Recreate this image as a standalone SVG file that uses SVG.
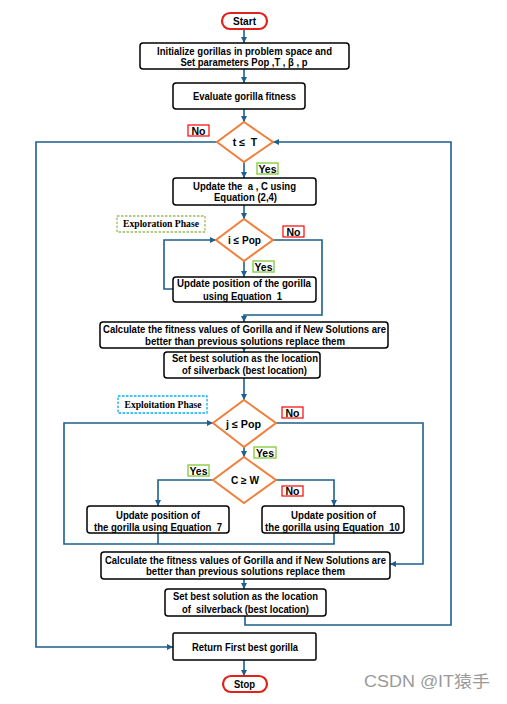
<svg xmlns="http://www.w3.org/2000/svg" width="507" height="704" viewBox="0 0 507 704">
<style>
.box{fill:#fff;stroke:#000;stroke-width:1.5}
.dia{fill:#fff;stroke:#F07F3C;stroke-width:2}
.term{fill:#fff;stroke:#E0201A;stroke-width:2.2}
.no{fill:#fff;stroke:#FF0000;stroke-width:1.2}
.yes{fill:#fff;stroke:#92D050;stroke-width:1.5}
.t{font-family:"Liberation Sans",Arial,sans-serif;font-weight:bold;font-size:10.5px;fill:#000;text-anchor:middle;dominant-baseline:central}
.ph{font-family:"Liberation Serif","Times New Roman",serif;font-weight:bold;font-size:9.5px;fill:#000;text-anchor:middle;dominant-baseline:central}
.ln{fill:none;stroke:#1F5F8B;stroke-width:1.6}
.wm{font-family:"Liberation Sans",Arial,"Noto Sans CJK SC",sans-serif;font-size:16px;fill:#9a9a9a;dominant-baseline:central}
</style>
<defs>
<marker id="ah" markerUnits="userSpaceOnUse" markerWidth="6" markerHeight="6" viewBox="0 0 6 6" refX="6" refY="3" orient="auto">
<path d="M0,0 L6,3 L0,6 z" fill="#1F5F8B"/>
</marker>
</defs>
<rect width="507" height="704" fill="#fff"/>
<g id="connectors">
<path class="ln" d="M244,29 V43" marker-end="url(#ah)"/>
<path class="ln" d="M244,69 V83" marker-end="url(#ah)"/>
<path class="ln" d="M244,109 V122" marker-end="url(#ah)"/>
<path class="ln" d="M244,162 V178" marker-end="url(#ah)"/>
<path class="ln" d="M244,205 V219" marker-end="url(#ah)"/>
<path class="ln" d="M244,261 V277" marker-end="url(#ah)"/>
<path class="ln" d="M173,289 H164 V240 H216" marker-end="url(#ah)"/>
<path class="ln" d="M273,240 H322 V315 H244 V322" marker-end="url(#ah)"/>
<path class="ln" d="M244,348 V352" marker-end="url(#ah)"/>
<path class="ln" d="M244,378 V400" marker-end="url(#ah)"/>
<path class="ln" d="M244,447 V457" marker-end="url(#ah)"/>
<path class="ln" d="M213,480 H158 V506" marker-end="url(#ah)"/>
<path class="ln" d="M276,480 H334 V506" marker-end="url(#ah)"/>
<path class="ln" d="M158,533 V544"/>
<path class="ln" d="M334,533 V544 H64 V423 H213" marker-end="url(#ah)"/>
<path class="ln" d="M276,423 H423 V564 H390" marker-end="url(#ah)"/>
<path class="ln" d="M244,579 V589" marker-end="url(#ah)"/>
<path class="ln" d="M245,616 V625 H451 V142 H273" marker-end="url(#ah)"/>
<path class="ln" d="M217,142 H36 V647 H173" marker-end="url(#ah)"/>
<path class="ln" d="M244,660 V676" marker-end="url(#ah)"/>
</g>
<g id="start"><rect class="term" x="222" y="13" width="45" height="16" rx="8"/><text class="t" x="244.5" y="21" textLength="23" lengthAdjust="spacingAndGlyphs">Start</text></g>
<g id="init"><rect class="box" x="140" y="43" width="209" height="26" rx="3"/>
<text class="t" x="244.5" y="50.5" textLength="175" lengthAdjust="spacingAndGlyphs">Initialize gorillas in problem space and</text>
<text class="t" x="244" y="62" textLength="127" lengthAdjust="spacingAndGlyphs">Set parameters Pop ,T , β , p</text></g>
<g id="evaluate"><rect class="box" x="173" y="83" width="132" height="26" rx="3"/><text class="t" x="244.5" y="96" textLength="103" lengthAdjust="spacingAndGlyphs">Evaluate gorilla fitness</text></g>
<g id="cond-t"><polygon class="dia" points="244,122 273,142 244,162 217,142"/><text class="t" x="245" y="142" xml:space="preserve">t ≤  T</text></g>
<g id="label-no-t"><rect class="no" x="188" y="125" width="21" height="11"/><text class="t" x="198.5" y="130.5" font-size="9.5">No</text></g>
<g id="label-yes-t"><rect class="yes" x="257" y="163" width="21" height="11"/><text class="t" x="267.5" y="168.5" font-size="9.5">Yes</text></g>
<g id="update-ac"><rect class="box" x="173" y="178" width="143" height="27" rx="3"/>
<text class="t" x="244.5" y="185.5" textLength="103" lengthAdjust="spacingAndGlyphs" xml:space="preserve">Update the  a , C using</text>
<text class="t" x="245.5" y="197" textLength="63" lengthAdjust="spacingAndGlyphs">Equation (2,4)</text></g>
<g id="exploration-phase"><rect x="117" y="216" width="88" height="16" fill="#fff" stroke="#9BBB59" stroke-width="1.3" stroke-dasharray="2.5,1.5"/><text class="ph" x="161" y="224" textLength="76" lengthAdjust="spacingAndGlyphs">Exploration Phase</text></g>
<g id="cond-i"><polygon class="dia" points="244,219 273,240 244,261 216,240"/><text class="t" x="244.5" y="240" textLength="33" lengthAdjust="spacingAndGlyphs">i ≤ Pop</text></g>
<g id="label-no-i"><rect class="no" x="283" y="226" width="21" height="11"/><text class="t" x="293.5" y="231.5" font-size="9.5">No</text></g>
<g id="label-yes-i"><rect class="yes" x="253" y="261" width="21" height="11"/><text class="t" x="263.5" y="266.5" font-size="9.5">Yes</text></g>
<g id="update-pos-1"><rect class="box" x="173" y="277" width="143" height="25" rx="3"/>
<text class="t" x="244" y="283" textLength="134" lengthAdjust="spacingAndGlyphs">Update position of the gorilla</text>
<text class="t" x="242.5" y="296" textLength="79" lengthAdjust="spacingAndGlyphs" xml:space="preserve">using Equation  1</text></g>
<g id="calc-1"><rect class="box" x="100" y="322" width="288" height="26" rx="3"/>
<text class="t" x="244.5" y="328.5" textLength="283" lengthAdjust="spacingAndGlyphs">Calculate the fitness values of Gorilla and if New Solutions are</text>
<text class="t" x="245" y="340.5" textLength="200" lengthAdjust="spacingAndGlyphs">better than previous solutions replace them</text></g>
<g id="setbest-1"><rect class="box" x="164" y="352" width="156" height="26" rx="3"/>
<text class="t" x="245" y="358" textLength="146" lengthAdjust="spacingAndGlyphs">Set best solution as the location</text>
<text class="t" x="244.5" y="370" textLength="125" lengthAdjust="spacingAndGlyphs">of silverback (best location)</text></g>
<g id="exploitation-phase"><rect x="118" y="396" width="89" height="17" fill="#fff" stroke="#00B0F0" stroke-width="1.3" stroke-dasharray="2.5,1.5"/><text class="ph" x="163" y="404.5" textLength="77" lengthAdjust="spacingAndGlyphs">Exploitation Phase</text></g>
<g id="cond-j"><polygon class="dia" points="244,400 276,423 244,447 213,423"/><text class="t" x="243.5" y="424" textLength="35" lengthAdjust="spacingAndGlyphs">j ≤ Pop</text></g>
<g id="label-no-j"><rect class="no" x="282" y="407" width="21" height="11"/><text class="t" x="292.5" y="412.5" font-size="9.5">No</text></g>
<g id="label-yes-j"><rect class="yes" x="254" y="447" width="22" height="11"/><text class="t" x="265" y="452.5" font-size="9.5">Yes</text></g>
<g id="cond-c"><polygon class="dia" points="244,457 276,480 244,503 213,480"/><text class="t" x="245" y="480" textLength="28" lengthAdjust="spacingAndGlyphs">C ≥ W</text></g>
<g id="label-yes-c"><rect class="yes" x="188" y="465" width="21" height="11"/><text class="t" x="198.5" y="470.5" font-size="9.5">Yes</text></g>
<g id="label-no-c"><rect class="no" x="282" y="486" width="21" height="10"/><text class="t" x="292.5" y="491" font-size="9.5">No</text></g>
<g id="update-pos-7"><rect class="box" x="87" y="506" width="142" height="27" rx="3"/>
<text class="t" x="158" y="515" textLength="84" lengthAdjust="spacingAndGlyphs">Update position of</text>
<text class="t" x="158" y="526.5" textLength="128" lengthAdjust="spacingAndGlyphs" xml:space="preserve">the gorilla using Equation  7</text></g>
<g id="update-pos-10"><rect class="box" x="262" y="506" width="142" height="27" rx="3"/>
<text class="t" x="333.5" y="515" textLength="85" lengthAdjust="spacingAndGlyphs">Update position of</text>
<text class="t" x="332.5" y="526.5" textLength="135" lengthAdjust="spacingAndGlyphs" xml:space="preserve">the gorilla using Equation  10</text></g>
<g id="calc-2"><rect class="box" x="101" y="552" width="289" height="27" rx="3"/>
<text class="t" x="245.5" y="560" textLength="281" lengthAdjust="spacingAndGlyphs">Calculate the fitness values of Gorilla and if New Solutions are</text>
<text class="t" x="245.5" y="570.5" textLength="199" lengthAdjust="spacingAndGlyphs">better than previous solutions replace them</text></g>
<g id="setbest-2"><rect class="box" x="165" y="589" width="161" height="27" rx="3"/>
<text class="t" x="245.5" y="596" textLength="145" lengthAdjust="spacingAndGlyphs">Set best solution as the location</text>
<text class="t" x="245.5" y="608.5" textLength="127" lengthAdjust="spacingAndGlyphs" xml:space="preserve">of  silverback (best location)</text></g>
<g id="return"><rect class="box" x="173" y="633" width="143" height="27" rx="1.5"/><text class="t" x="245" y="647" textLength="106" lengthAdjust="spacingAndGlyphs">Return First best gorilla</text></g>
<g id="stop"><rect class="term" x="223" y="676" width="44" height="16" rx="8"/><text class="t" x="244.5" y="684" textLength="21" lengthAdjust="spacingAndGlyphs">Stop</text></g>
<text class="wm" x="364" y="681" textLength="126" lengthAdjust="spacingAndGlyphs">CSDN @IT猿手</text>
</svg>
